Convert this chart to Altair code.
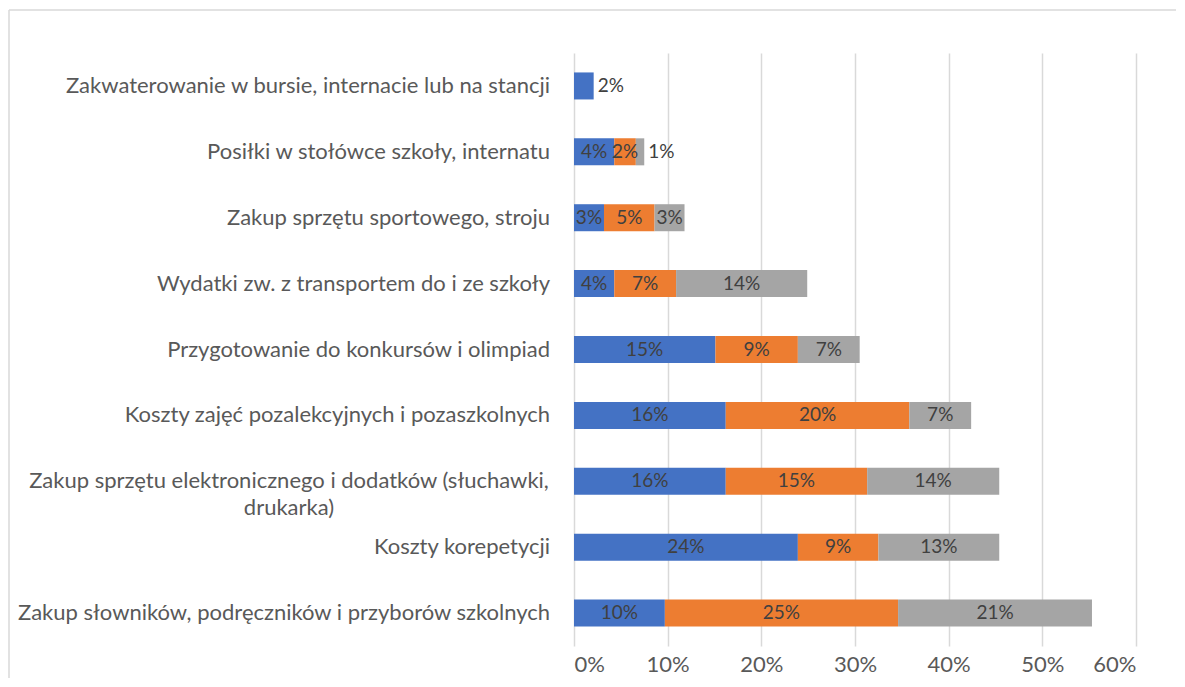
import altair as alt
import pandas as pd

categories = [
    "Zakwaterowanie w bursie, internacie lub na stancji",
    "Posiłki w stołówce szkoły, internatu",
    "Zakup sprzętu sportowego, stroju",
    "Wydatki zw. z transportem do i ze szkoły",
    "Przygotowanie do konkursów i olimpiad",
    "Koszty zajęć pozalekcyjnych i pozaszkolnych",
    "Zakup sprzętu elektronicznego i dodatków (słuchawki,\ndrukarka)",
    "Koszty korepetycji",
    "Zakup słowników, podręczników i przyborów szkolnych",
]
series_names = ["Seria 1", "Seria 2", "Seria 3"]
series_1 = [2.1, 4.3, 3.2, 4.3, 15.1, 16.2, 16.2, 23.9, 9.7]
series_2 = [0.0, 2.3, 5.4, 6.6, 8.8, 19.6, 15.1, 8.6, 24.9]
series_3 = [0.0, 0.9, 3.2, 14.0, 6.6, 6.6, 14.1, 12.9, 20.7]
x_ticks = [0, 0.1, 0.2, 0.3, 0.4, 0.5, 0.6]

colors = ["#4472C4", "#ED7D31", "#A5A5A5"]
FONT = "Lato"
CAT_FS = 22
DATA_FS = 19
TICK_FS = 22

rows = []
for i, cat in enumerate(categories):
    start = 0.0
    vals = [series_1[i], series_2[i], series_3[i]]
    last_nonzero = max(k for k, v in enumerate(vals) if v > 0)
    for k, v in enumerate(vals):
        if v <= 0:
            continue
        f = v / 100.0
        rows.append({
            "cat": cat,
            "series": series_names[k],
            "order": k,
            "value": f,
            "start": start,
            "end": start + f,
            "mid": start + f / 2,
            "outside": (k == last_nonzero and v < 2.5),
        })
        start += f
df = pd.DataFrame(rows)

y_enc = alt.Y("cat:N", sort=categories, axis=None,
              scale=alt.Scale(paddingInner=0.59, paddingOuter=0.295))
x_scale = alt.Scale(domain=[0, 0.6], nice=False)

base = alt.Chart(df)

bars = base.mark_bar().encode(
    x=alt.X("start:Q", scale=x_scale,
            axis=alt.Axis(values=x_ticks, format=".0%", grid=True, gridColor="#D9D9D9",
                          gridWidth=1.5, domain=False, ticks=False, labelFontSize=TICK_FS,
                          labelColor="#595959", labelFont=FONT, labelPadding=8, title=None)),
    x2="end:Q",
    y=y_enc,
    color=alt.Color("series:N", scale=alt.Scale(domain=series_names, range=colors), legend=None),
)

text_in = base.transform_filter("!datum.outside").mark_text(
    font=FONT, fontSize=DATA_FS, color="#404040", align="center", baseline="middle"
).encode(x=alt.X("mid:Q", scale=x_scale), y=y_enc, text=alt.Text("value:Q", format=".0%"))

text_out = base.transform_filter("datum.outside").mark_text(
    font=FONT, fontSize=DATA_FS, color="#404040", align="left", baseline="middle", dx=4
).encode(x=alt.X("end:Q", scale=x_scale), y=y_enc, text=alt.Text("value:Q", format=".0%"))

cat_df = pd.DataFrame({"cat": categories, "multi": ["\n" in c for c in categories]})
cat_single = alt.Chart(cat_df).transform_filter("!datum.multi").mark_text(
    font=FONT, fontSize=CAT_FS, color="#595959", align="right", baseline="middle"
).encode(y=y_enc, x=alt.value(-24), text="cat:N")

cat_multi = alt.Chart(cat_df).transform_filter("datum.multi").mark_text(
    font=FONT, fontSize=CAT_FS, color="#595959", align="center", baseline="middle",
    lineBreak="\n", lineHeight=27
).encode(y=y_enc, x=alt.value(-285), text="cat:N")

frame_df = pd.DataFrame({"d": [0]})
frame_left = alt.Chart(frame_df).mark_rule(color="#D9D9D9", strokeWidth=1.5).encode(
    x=alt.value(-565), y=alt.value(-43), y2=alt.value(700))
frame_top = alt.Chart(frame_df).mark_rule(color="#D9D9D9", strokeWidth=1.5).encode(
    x=alt.value(-565), x2=alt.value(700), y=alt.value(-43))

chart = alt.layer(bars, text_in, text_out, cat_single, cat_multi, frame_left, frame_top).properties(
    width=562, height=593,
    padding={"left": 566, "top": 45, "right": 40, "bottom": 32},
    autosize=alt.AutoSizeParams(type="none"),
    background="white",
).configure_view(stroke=None)

chart.save("out.html", embed_options={"renderer": "svg", "actions": False})
